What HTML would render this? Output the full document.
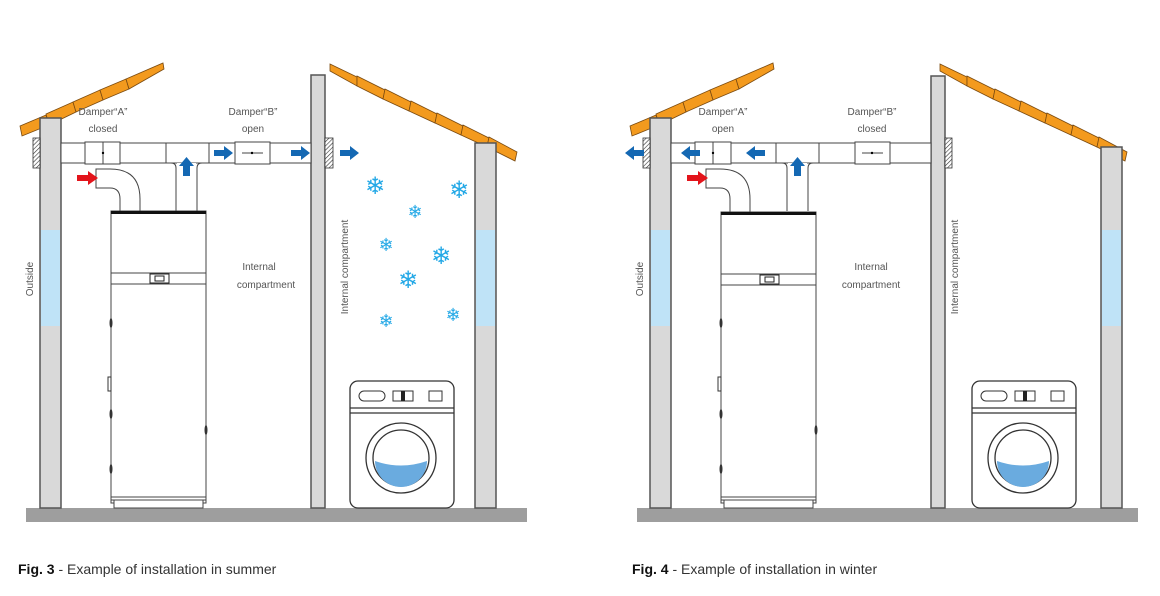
<!DOCTYPE html>
<html><head><meta charset="utf-8"><style>
html,body{margin:0;padding:0;background:#fff;width:1160px;height:596px;overflow:hidden}
svg{display:block;font-family:"Liberation Sans",sans-serif}
.t{font-size:10px;fill:#555}
.w{fill:#d9d9d9;stroke:#555;stroke-width:1.5}
.d{fill:#fff;stroke:#444;stroke-width:1}
.roof{fill:#f39a1e;stroke:#7a4a10;stroke-width:0.8}
</style></head><body>
<svg width="1160" height="596" viewBox="0 0 1160 596">
<defs>
<pattern id="h" width="3" height="3" patternUnits="userSpaceOnUse" patternTransform="rotate(45)"><rect width="3" height="3" fill="#fff"/><line x1="0" y1="0" x2="0" y2="3" stroke="#333" stroke-width="1.2"/></pattern>
<g id="roofL" class="roof">
<polygon points="20,126 46,115 49,125 22,136"/>
<polygon points="46,114 73,102 76,112 49,125"/>
<polygon points="73,102 100,90 103,100 76,112"/>
<polygon points="100,90 126,79 129,89 103,100"/>
<polygon points="126,79 163,63 164,69 129,89"/>
</g>
<g id="roofR" class="roof">
<polygon points="330,64 357,77 357,86 330,71"/>
<polygon points="357,76 385,90 383,99 357,86"/>
<polygon points="385,89 411,102 409,111 383,99"/>
<polygon points="411,101 437,114 435,123 409,111"/>
<polygon points="437,113 463,126 461,135 435,123"/>
<polygon points="463,125 489,138 487,147 461,135"/>
<polygon points="489,137 517,152 515,161 487,147"/>
</g>
</defs>

<!-- ============ FIG 3 ============ -->
<g>
<rect x="26" y="508" width="501" height="14" fill="#9e9e9e"/>
<use href="#roofL"/>
<use href="#roofR"/>
<rect class="w" x="40" y="118" width="21" height="390"/>
<rect x="41" y="230" width="19" height="96" fill="#bfe3f7"/>
<rect class="w" x="311" y="75" width="14" height="433"/>
<rect class="w" x="475" y="143" width="21" height="365"/>
<rect x="476" y="230" width="19" height="96" fill="#bfe3f7"/>
<rect x="33" y="138" width="7" height="30" fill="url(#h)" stroke="#333" stroke-width="0.8"/>
<rect x="325" y="138" width="8" height="30" fill="url(#h)" stroke="#333" stroke-width="0.8"/>
<rect class="d" x="61" y="143" width="250" height="20"/>
<rect class="d" x="85" y="142" width="35" height="22"/>
<line x1="103" y1="142" x2="103" y2="164" stroke="#444"/>
<circle cx="103" cy="153" r="1.2" fill="#000"/>
<line x1="166" y1="143" x2="166" y2="163" stroke="#444"/>
<line x1="209" y1="143" x2="209" y2="163" stroke="#444"/>
<path d="M176,211 V168 Q176,163 171,163 M197,211 V168 Q197,163 202,163" fill="none" stroke="#444"/>
<rect x="177" y="163" width="19" height="48" fill="#fff"/>
<rect class="d" x="235" y="142" width="35" height="22"/>
<line x1="242" y1="153" x2="263" y2="153" stroke="#444"/>
<circle cx="252" cy="153" r="1.2" fill="#000"/>
<path d="M96,169 H110 Q140,169 140,199 V211 H120 V199 Q120,188 110,188 H96 Z" fill="#fff" stroke="#444"/>
<rect x="111" y="211" width="95" height="292" fill="#fff" stroke="#444"/>
<rect x="111" y="211" width="95" height="3" fill="#111"/>
<rect x="111" y="273" width="95" height="11" fill="#fff" stroke="#444"/>
<rect x="150" y="274" width="19" height="9" fill="#fff" stroke="#222"/>
<rect x="155" y="276" width="9" height="5" fill="#fff" stroke="#222"/>
<rect x="111" y="497" width="95" height="3" fill="#fff" stroke="#444"/>
<rect x="114" y="500" width="89" height="8" fill="#fff" stroke="#444"/>
<rect x="108" y="377" width="3" height="14" fill="#fff" stroke="#333"/>
<g fill="#333"><ellipse cx="111" cy="323" rx="1.5" ry="5"/><ellipse cx="111" cy="414" rx="1.5" ry="5"/><ellipse cx="111" cy="469" rx="1.5" ry="5"/><ellipse cx="206" cy="430" rx="1.5" ry="5"/></g>
<rect x="350" y="381" width="104" height="127" rx="8" fill="#fff" stroke="#333" stroke-width="1.3"/>
<line x1="350" y1="408" x2="454" y2="408" stroke="#333" stroke-width="1.3"/>
<line x1="350" y1="413" x2="454" y2="413" stroke="#333" stroke-width="1.3"/>
<rect x="359" y="391" width="26" height="10" rx="5" fill="#fff" stroke="#333"/>
<rect x="393" y="391" width="20" height="10" fill="#fff" stroke="#333"/>
<rect x="401" y="391" width="4" height="10" fill="#222"/>
<rect x="429" y="391" width="13" height="10" fill="#fff" stroke="#333"/>
<circle cx="401" cy="458" r="35" fill="#fff" stroke="#333" stroke-width="1.3"/>
<circle cx="401" cy="458" r="28" fill="#fff" stroke="#333" stroke-width="1.3"/>
<path d="M375,461 Q401,470 427,461 A26,26 0 0 1 375,461 Z" fill="#6aabdf"/>
<polygon points="77,175 88,175 88,171 98,178 88,185 88,181 77,181" fill="#e3141b"/>
<polygon points="183,176 183,166 179,166 186.5,157 194,166 190,166 190,176" fill="#1468b3"/>
<g fill="#1468b3">
<polygon points="214,150 224,150 224,146 233,153 224,160 224,156 214,156"/>
<polygon points="291,150 301,150 301,146 310,153 301,160 301,156 291,156"/>
<polygon points="340,150 350,150 350,146 359,153 350,160 350,156 340,156"/>
</g>
<g fill="#23a8e6" font-family="DejaVu Sans,sans-serif" text-anchor="middle">
<text x="375" y="194" font-size="24">❄</text>
<text x="459" y="198" font-size="24">❄</text>
<text x="415" y="218" font-size="18">❄</text>
<text x="386" y="251" font-size="18">❄</text>
<text x="441" y="264" font-size="24">❄</text>
<text x="408" y="288" font-size="24">❄</text>
<text x="386" y="327" font-size="18">❄</text>
<text x="453" y="321" font-size="18">❄</text>
</g>
<text class="t" x="103" y="115" text-anchor="middle">Damper“A”</text>
<text class="t" x="103" y="132" text-anchor="middle">closed</text>
<text class="t" x="253" y="115" text-anchor="middle">Damper“B”</text>
<text class="t" x="253" y="132" text-anchor="middle">open</text>
<text class="t" x="259" y="270" text-anchor="middle">Internal</text>
<text class="t" x="266" y="288" text-anchor="middle">compartment</text>
<text class="t" transform="translate(33,279) rotate(-90)" text-anchor="middle">Outside</text>
<text class="t" transform="translate(348,267) rotate(-90)" text-anchor="middle">Internal compartment</text>
</g>

<!-- ============ FIG 4 ============ -->
<g transform="translate(610,0)">
<rect x="27" y="508" width="501" height="14" fill="#9e9e9e"/>
<use href="#roofL"/>
<use href="#roofR"/>
<rect class="w" x="40" y="118" width="21" height="390"/>
<rect x="41" y="230" width="19" height="96" fill="#bfe3f7"/>
<rect class="w" x="321" y="76" width="14" height="432"/>
<rect class="w" x="491" y="147" width="21" height="361"/>
<rect x="492" y="230" width="19" height="96" fill="#bfe3f7"/>
<rect x="33" y="138" width="7" height="30" fill="url(#h)" stroke="#333" stroke-width="0.8"/>
<rect x="335" y="138" width="7" height="30" fill="url(#h)" stroke="#333" stroke-width="0.8"/>
<rect class="d" x="61" y="143" width="260" height="20"/>
<rect class="d" x="85" y="142" width="36" height="22"/>
<line x1="103" y1="142" x2="103" y2="164" stroke="#444"/>
<circle cx="103" cy="153" r="1.2" fill="#000"/>
<line x1="166" y1="143" x2="166" y2="163" stroke="#444"/>
<line x1="209" y1="143" x2="209" y2="163" stroke="#444"/>
<path d="M177,211 V168 Q177,163 172,163 M198,211 V168 Q198,163 203,163" fill="none" stroke="#444"/>
<rect x="178" y="163" width="19" height="48" fill="#fff"/>
<rect class="d" x="245" y="142" width="35" height="22"/>
<line x1="252" y1="153" x2="273" y2="153" stroke="#444"/>
<circle cx="262" cy="153" r="1.2" fill="#000"/>
<path d="M96,169 H110 Q140,169 140,199 V212 H120 V199 Q120,188 110,188 H96 Z" fill="#fff" stroke="#444"/>
<rect x="111" y="212" width="95" height="291" fill="#fff" stroke="#444"/>
<rect x="111" y="212" width="95" height="3" fill="#111"/>
<rect x="111" y="274" width="95" height="11" fill="#fff" stroke="#444"/>
<rect x="150" y="275" width="19" height="9" fill="#fff" stroke="#222"/>
<rect x="155" y="277" width="9" height="5" fill="#fff" stroke="#222"/>
<rect x="111" y="497" width="95" height="3" fill="#fff" stroke="#444"/>
<rect x="114" y="500" width="89" height="8" fill="#fff" stroke="#444"/>
<rect x="108" y="377" width="3" height="14" fill="#fff" stroke="#333"/>
<g fill="#333"><ellipse cx="111" cy="323" rx="1.5" ry="5"/><ellipse cx="111" cy="414" rx="1.5" ry="5"/><ellipse cx="111" cy="469" rx="1.5" ry="5"/><ellipse cx="206" cy="430" rx="1.5" ry="5"/></g>
<rect x="362" y="381" width="104" height="127" rx="8" fill="#fff" stroke="#333" stroke-width="1.3"/>
<line x1="362" y1="408" x2="466" y2="408" stroke="#333" stroke-width="1.3"/>
<line x1="362" y1="413" x2="466" y2="413" stroke="#333" stroke-width="1.3"/>
<rect x="371" y="391" width="26" height="10" rx="5" fill="#fff" stroke="#333"/>
<rect x="405" y="391" width="20" height="10" fill="#fff" stroke="#333"/>
<rect x="413" y="391" width="4" height="10" fill="#222"/>
<rect x="441" y="391" width="13" height="10" fill="#fff" stroke="#333"/>
<circle cx="413" cy="458" r="35" fill="#fff" stroke="#333" stroke-width="1.3"/>
<circle cx="413" cy="458" r="28" fill="#fff" stroke="#333" stroke-width="1.3"/>
<path d="M387,461 Q413,470 439,461 A26,26 0 0 1 387,461 Z" fill="#6aabdf"/>
<polygon points="77,175 88,175 88,171 98,178 88,185 88,181 77,181" fill="#e3141b"/>
<polygon points="184,176 184,166 180,166 187.5,157 195,166 191,166 191,176" fill="#1468b3"/>
<g fill="#1468b3">
<polygon points="34,150 24,150 24,146 15,153 24,160 24,156 34,156"/>
<polygon points="90,150 80,150 80,146 71,153 80,160 80,156 90,156"/>
<polygon points="155,150 145,150 145,146 136,153 145,160 145,156 155,156"/>
</g>
<text class="t" x="113" y="115" text-anchor="middle">Damper“A”</text>
<text class="t" x="113" y="132" text-anchor="middle">open</text>
<text class="t" x="262" y="115" text-anchor="middle">Damper“B”</text>
<text class="t" x="262" y="132" text-anchor="middle">closed</text>
<text class="t" x="261" y="270" text-anchor="middle">Internal</text>
<text class="t" x="261" y="288" text-anchor="middle">compartment</text>
<text class="t" transform="translate(33,279) rotate(-90)" text-anchor="middle">Outside</text>
<text class="t" transform="translate(348,267) rotate(-90)" text-anchor="middle">Internal compartment</text>
</g>

<text x="18" y="574" font-size="14" fill="#333"><tspan font-weight="bold" fill="#111">Fig. 3</tspan> - Example of installation in summer</text>
<text x="632" y="574" font-size="14" fill="#333"><tspan font-weight="bold" fill="#111">Fig. 4</tspan> - Example of installation in winter</text>
</svg>
</body></html>
